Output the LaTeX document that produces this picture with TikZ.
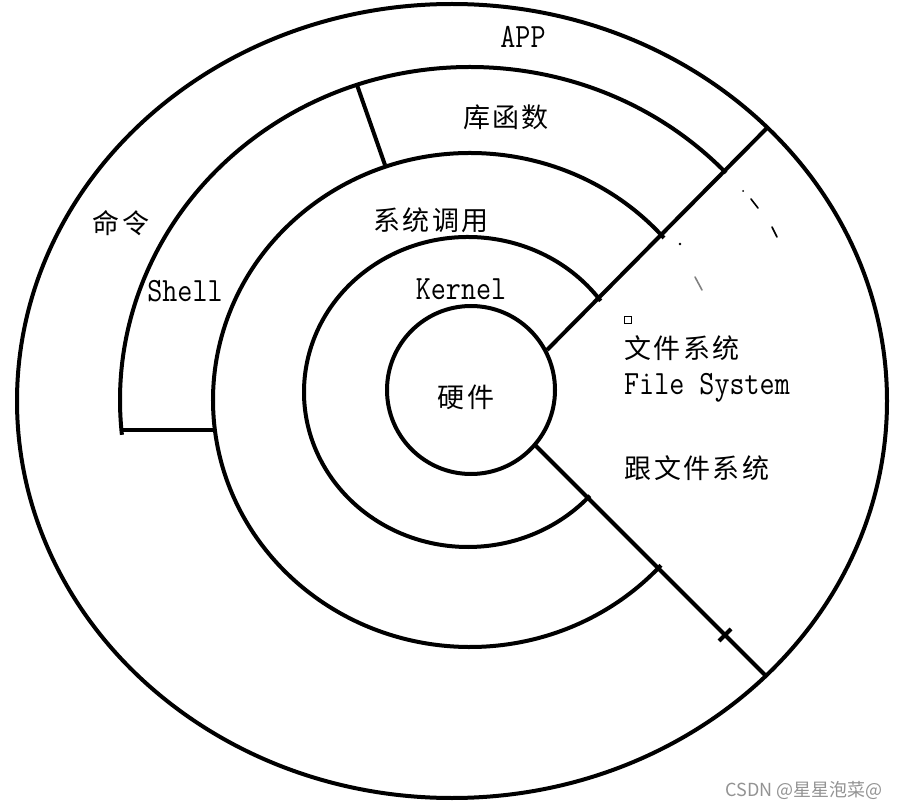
\documentclass[tikz,border=0pt]{standalone}
\usepackage{fontspec}
\newfontfamily\cjkfont[LetterSpace=9]{Noto Sans CJK SC}
\newfontfamily\wmfont{Noto Sans CJK SC}
\newcommand{\monotext}[1]{\scalebox{0.86}[1]{#1}}
\tikzset{
  ring/.style={line width=4pt, line cap=butt},
  zh/.style={font=\cjkfont\fontsize{27}{30}\selectfont, inner sep=0pt},
  lat/.style={font=\ttfamily\fontsize{34}{38}\selectfont, inner sep=0pt},
  speck/.style={line width=1.6pt, line cap=round},
}
\begin{document}
\begin{tikzpicture}[x=1pt,y=1pt]
\useasboundingbox (0,0) rectangle (900,-810);
\fill[white] (0,0) rectangle (900,-810);

% centres
\coordinate (cOut) at (452,-401);
\coordinate (cShell) at (470,-400);
\coordinate (cSys) at (470,-400);
\coordinate (cKer) at (468,-392);
\coordinate (cHw) at (471,-390);

% rings
\draw[ring] (cOut) ellipse [x radius=435, y radius=397];
\draw[ring] (cHw) circle [radius=84];
\draw[ring] (cKer) ++(36:164 and 155) arc [start angle=36, end angle=318, x radius=164, y radius=155];
\draw[ring] (cSys) ++(41:257 and 247) arc [start angle=41, end angle=318, x radius=257, y radius=247];
\draw[ring] (cShell) ++(43:350 and 333) arc [start angle=43, end angle=186, x radius=350, y radius=333];

% diagonals
\coordinate (u1) at (547,-350); \coordinate (u2) at (767,-128);
\coordinate (l1) at (535,-445); \coordinate (l2) at (767,-677);
\draw[ring] (u1) -- (u2);
\draw[ring] (l1) -- (l2);
\coordinate (t1) at (719,-641); \coordinate (t2) at (731,-629);
\draw[ring] (t1) -- (t2);

% divider in shell ring and bottom of shell
\coordinate (d1) at (357,-85); \coordinate (d2) at (385,-165);
\draw[ring] (d1) -- (d2);
\coordinate (h1) at (120,-430); \coordinate (h2) at (213,-430);
\draw[ring] (h1) -- (h2);

% faint specks
\fill (743,-191) circle (1pt);
\draw[speck] (751,-199) -- (758,-208);
\draw[speck] (772,-227) -- (777,-237);
\fill (680,-244) circle (1.3pt);
\draw[speck, gray] (695,-277) -- (702,-290);
\draw[line width=0.8pt] (624,-316) rectangle (631,-323);

% labels
\node[lat] (app) at (523,-37) {\monotext{APP}};
\node[zh] (lib) at (506,-117) {库函数};
\node[zh] (cmd) at (121,-223) {命令};
\node[lat] (shell) at (185,-291) {\monotext{Shell}};
\node[zh] (sys) at (431,-220) {系统调用};
\node[lat] (kernel) at (461,-289) {\monotext{Kernel}};
\node[zh] (hw) at (466,-397) {硬件};
\node[zh] (fs) at (682,-348) {文件系统};
\node[lat] (fsen) at (707,-388) {\monotext{File System}};
\node[zh] (rootfs) at (697,-468) {跟文件系统};
\node[font=\wmfont\fontsize{18}{20}\selectfont, text=gray!85, anchor=east, inner sep=0pt] (wm) at (883,-790) {CSDN @星星泡菜@};
\end{tikzpicture}
\end{document}
